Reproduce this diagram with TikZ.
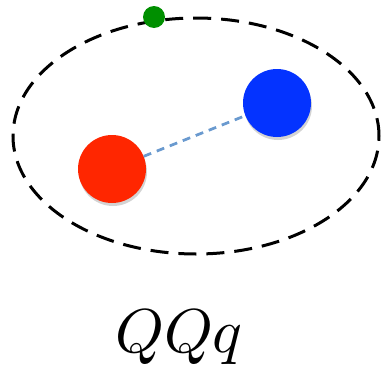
\documentclass[tikz,border=0pt]{standalone}
\usetikzlibrary{shadows}
\definecolor{bodyred}{HTML}{FF2600}
\definecolor{bodyblue}{HTML}{0433FF}
\definecolor{satgreen}{HTML}{008F00}
\definecolor{linkblue}{HTML}{6A9ACF}

\begin{document}
\begin{tikzpicture}[x=1pt, y=1pt,
  body/.style={circle, inner sep=0pt, minimum size=68pt,
    drop shadow={opacity=0.35, shadow xshift=1pt, shadow yshift=-3pt}}]

% Canvas
\useasboundingbox (0,0) rectangle (383,368);

% Orbit
\draw[black, line width=3pt, dash pattern=on 18pt off 10pt] (196,232) ellipse (183 and 118);

% Bodies
\node[body, fill=bodyred] (red) at (112,199) {};
\node[body, fill=bodyblue] (blue) at (277,265) {};
\node[circle, inner sep=0pt, minimum size=22pt, fill=satgreen] (green) at (154,351) {};

% Link
\draw[linkblue, line width=2.7pt, dash pattern=on 8pt off 6pt] (red) -- (blue);

% Label
\node[anchor=base, inner sep=0pt, scale=6.2] (label) at (179,16) {$QQq$};

\end{tikzpicture}
\end{document}
